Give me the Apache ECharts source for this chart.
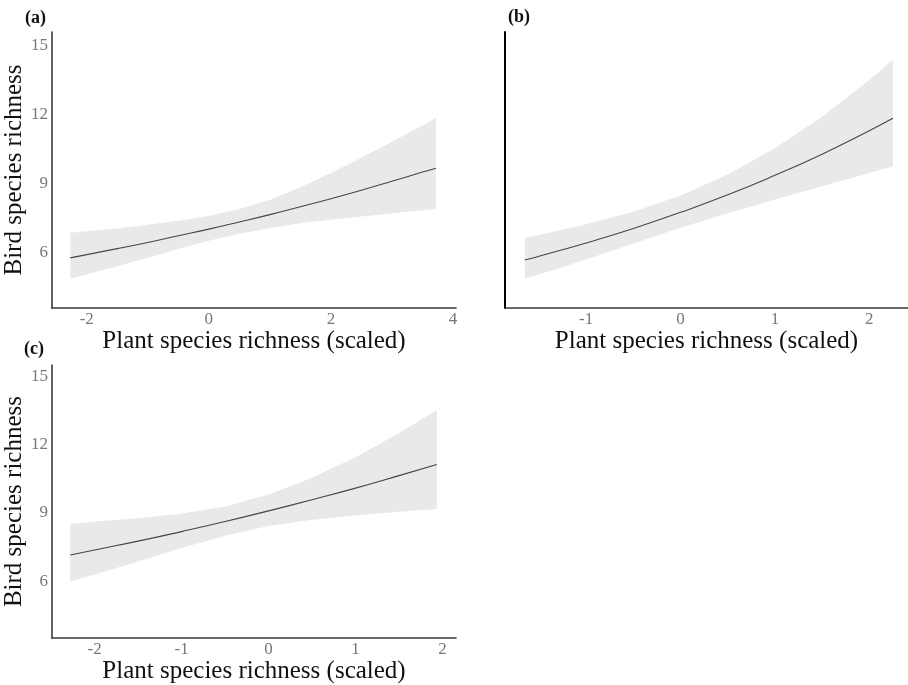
<!DOCTYPE html>
<html>
<head>
<meta charset="utf-8">
<script src="https://cdn.jsdelivr.net/npm/echarts@6/dist/echarts.min.js"></script>
<style>
html,body{margin:0;padding:0;background:#fff;}
#chart{width:908px;height:685px;}
</style>
</head>
<body>
<div id="chart"></div>
<script>
// ---- data ----
const xA   = [-2.27, -1.5, -1, -0.5, 0, 0.5, 1, 1.5, 2, 2.5, 3, 3.5, 3.72];
const fitA = [5.75, 6.15, 6.42, 6.71, 7.00, 7.31, 7.63, 7.97, 8.32, 8.69, 9.08, 9.48, 9.65];
const upA  = [6.84, 7.03, 7.19, 7.36, 7.57, 7.87, 8.27, 8.82, 9.44, 10.10, 10.80, 11.50, 11.83];
const loA  = [4.84, 5.38, 5.76, 6.14, 6.49, 6.80, 7.05, 7.25, 7.41, 7.55, 7.69, 7.82, 7.87];

const xB   = [-1.65, -1.5, -1, -0.5, 0, 0.5, 1, 1.5, 2, 2.25];
const fitB = [5.66, 5.82, 6.40, 7.03, 7.73, 8.49, 9.34, 10.26, 11.28, 11.82];
const upB  = [6.61, 6.74, 7.21, 7.76, 8.46, 9.37, 10.52, 11.88, 13.48, 14.37];
const loB  = [4.84, 5.03, 5.68, 6.37, 7.06, 7.69, 8.29, 8.86, 9.44, 9.73];

const xC   = [-2.28, -2, -1.5, -1, -0.5, 0, 0.5, 1, 1.5, 1.935];
const fitC = [7.15, 7.37, 7.76, 8.18, 8.62, 9.09, 9.58, 10.09, 10.64, 11.13];
const upC  = [8.53, 8.62, 8.77, 8.97, 9.28, 9.81, 10.55, 11.45, 12.51, 13.51];
const loC  = [5.99, 6.30, 6.87, 7.46, 8.00, 8.43, 8.70, 8.89, 9.05, 9.17];

const yTicks  = [6, 9, 12, 15];
const xTicksA = [-2, 0, 2, 4];
const xTicksB = [-1, 0, 1, 2];
const xTicksC = [-2, -1, 0, 1, 2];

const panelLabels = ['(a)', '(b)', '(c)'];
const xTitle = 'Plant species richness (scaled)';
const yTitle = 'Bird species richness';

// ---- styling ----
const FONT = 'Liberation Serif';
const BAND = '#e9e9e9';
const LINE = '#454545';
const AXIS = '#3a3a3a';
const TICKC = '#777777';

function pairs(xs, ys) { return xs.map((x, i) => [x, ys[i]]); }

function bandRenderer(xs, lo, hi) {
  return function (params, api) {
    if (params.dataIndex !== 0) return null;
    const pts = [];
    for (let i = 0; i < xs.length; i++) pts.push(api.coord([xs[i], hi[i]]));
    for (let i = xs.length - 1; i >= 0; i--) pts.push(api.coord([xs[i], lo[i]]));
    return { type: 'polygon', shape: { points: pts }, style: { fill: BAND } };
  };
}

function xAxisDef(gridIndex, min, max, ticks) {
  return {
    type: 'value', gridIndex, min, max,
    axisLine: { show: true, onZero: false, lineStyle: { color: AXIS, width: 1.6 } },
    axisTick: { show: false },
    splitLine: { show: false },
    axisLabel: { customValues: ticks, color: TICKC, fontFamily: FONT, fontSize: 17, margin: 3 },
    name: xTitle, nameLocation: 'middle', nameGap: 14,
    nameTextStyle: { fontFamily: FONT, fontSize: 25, color: '#111' }
  };
}

function yAxisDef(gridIndex, min, max, showLabels, lineColor, lineWidth) {
  const ax = {
    type: 'value', gridIndex, min, max,
    axisLine: { show: true, onZero: false, lineStyle: { color: lineColor, width: lineWidth } },
    axisTick: { show: false },
    splitLine: { show: false },
    axisLabel: { show: showLabels, customValues: yTicks, color: TICKC, fontFamily: FONT, fontSize: 17, margin: 4 }
  };
  if (showLabels) {
    ax.name = yTitle; ax.nameLocation = 'middle'; ax.nameGap = 19;
    ax.nameTextStyle = { fontFamily: FONT, fontSize: 25, color: '#111' };
  }
  return ax;
}

function seriesFor(idx, xs, fit, lo, hi) {
  return [
    {
      type: 'custom', xAxisIndex: idx, yAxisIndex: idx,
      renderItem: bandRenderer(xs, lo, hi),
      data: xs.map((x, i) => [x, lo[i], hi[i]]),
      encode: { x: 0, y: [1, 2] }, silent: true, z: 1
    },
    {
      type: 'line', xAxisIndex: idx, yAxisIndex: idx,
      data: pairs(xs, fit), smooth: true, showSymbol: false, symbol: 'none',
      lineStyle: { color: LINE, width: 1.1 }, silent: true, z: 3
    }
  ];
}

const labelStyle = { fontFamily: FONT, fontSize: 18, fontWeight: 'bold', color: '#111' };
const chart = echarts.init(document.getElementById('chart'), null, { renderer: 'canvas' });
chart.setOption({
  backgroundColor: '#ffffff',
  animation: false,
  title: [
    { text: panelLabels[0], left: 25, top: 9, padding: 0, textStyle: labelStyle },
    { text: panelLabels[1], left: 508, top: 8, padding: 0, textStyle: labelStyle },
    { text: panelLabels[2], left: 24, top: 340, padding: 0, textStyle: labelStyle }
  ],
  grid: [
    { left: 52, top: 32, width: 404, height: 276 },
    { left: 505, top: 32, width: 403, height: 276 },
    { left: 52, top: 365, width: 404, height: 276 }
  ],
  xAxis: [
    xAxisDef(0, -2.57, 4.05, xTicksA),
    xAxisDef(1, -1.86, 2.41, xTicksB),
    xAxisDef(2, -2.49, 2.155, xTicksC)
  ],
  yAxis: [
    yAxisDef(0, 3.57, 15.57, true, AXIS, 1.6),
    yAxisDef(1, 3.57, 15.57, false, '#000000', 2),
    yAxisDef(2, 3.5, 15.5, true, AXIS, 1.6)
  ],
  series: [].concat(
    seriesFor(0, xA, fitA, loA, upA),
    seriesFor(1, xB, fitB, loB, upB),
    seriesFor(2, xC, fitC, loC, upC)
  )
});
</script>
</body>
</html>
